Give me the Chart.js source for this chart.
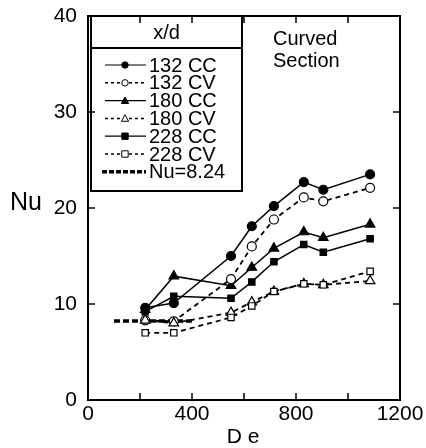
<!DOCTYPE html>
<html lang="en">
<head>
  <meta charset="UTF-8">
  <title>Nu vs De - Curved Section</title>
  <script src="https://cdn.jsdelivr.net/npm/chart.js"></script>
  <style>
    html, body { margin: 0; padding: 0; background: #fff; }
    #wrap { width: 426px; height: 448px; }
  </style>
</head>
<body>
  <div id="wrap"><canvas id="nuChart" width="426" height="448"></canvas></div>
  <script>
    // values
    const deValues = [220, 330, 550, 630, 715, 830, 905, 1085];
    const nu132CC = [9.6, 10.1, 15.0, 18.1, 20.2, 22.7, 21.9, 23.5];
    const nu132CV = [8.3, 8.2, 12.6, 16.0, 18.8, 21.1, 20.7, 22.1];
    const nu180CC = [9.4, 12.9, 11.9, 13.8, 15.8, 17.5, 16.9, 18.3];
    const nu180CV = [8.3, 8.0, 9.1, 10.2, 11.3, 12.1, 12.0, 12.4];
    const nu228CC = [9.2, 10.8, 10.6, 12.3, 14.4, 16.2, 15.4, 16.8];
    const nu228CV = [7.0, 7.0, 8.6, 9.8, 11.3, 12.1, 12.0, 13.4];
    const refDe = [100, 400];
    const refNu = [8.24, 8.24];

    const xTicks = [0, 400, 800, 1200];
    const yTicks = [0, 10, 20, 30, 40];

    const FONT = '"Liberation Sans", Arial, sans-serif';

    const pts = (xs, ys) => xs.map((x, i) => ({ x: x, y: ys[i] }));

    function series(label, ys, style, filled, dashed) {
      return {
        label: label,
        data: pts(deValues, ys),
        showLine: true,
        borderColor: '#000',
        borderWidth: dashed ? 1.8 : 1.5,
        borderDash: dashed ? [5, 4] : [],
        pointStyle: style,
        pointRadius: style === 'triangle' ? 5.5 : 4.5,
        pointBackgroundColor: filled ? '#000' : '#fff',
        pointBorderColor: '#000',
        pointBorderWidth: 1.2,
        tension: 0
      };
    }

    const datasets = [
      series('228 CV', nu228CV, 'rect', false, true),
      series('180 CV', nu180CV, 'triangle', false, true),
      series('132 CV', nu132CV, 'circle', false, true),
      series('228 CC', nu228CC, 'rect', true, false),
      series('180 CC', nu180CC, 'triangle', true, false),
      series('132 CC', nu132CC, 'circle', true, false),
      {
        label: 'Nu=8.24',
        data: pts(refDe, refNu),
        showLine: true,
        borderColor: '#000',
        borderWidth: 3.5,
        borderDash: [6, 3],
        pointRadius: 0
      }
    ];

    // frame, inward ticks, legend box, axis titles
    const decorPlugin = {
      id: 'decor',
      afterDraw(chart) {
        const ctx = chart.ctx;
        const a = chart.chartArea;
        const xs = chart.scales.x, ys = chart.scales.y;
        ctx.save();

        // legend box
        const lx = 91, ly = 16, lw = 151, lh = 175;
        ctx.fillStyle = '#fff';
        ctx.fillRect(lx, ly, lw, lh);
        ctx.strokeStyle = '#000';
        ctx.lineWidth = 2;
        ctx.strokeRect(lx, ly, lw, lh);
        ctx.beginPath();
        ctx.moveTo(lx, 48); ctx.lineTo(lx + lw, 48);
        ctx.stroke();

        ctx.fillStyle = '#000';
        ctx.font = '20px ' + FONT;
        ctx.textBaseline = 'middle';
        ctx.textAlign = 'center';
        ctx.fillText('x/d', lx + lw / 2, 33);

        ctx.textAlign = 'left';
        const order = ['132 CC', '132 CV', '180 CC', '180 CV', '228 CC', '228 CV', 'Nu=8.24'];
        order.forEach((name, i) => {
          const ds = datasets.find(d => d.label === name);
          const y = 65 + i * 17.8;
          ctx.save();
          ctx.strokeStyle = '#000';
          ctx.lineWidth = name === 'Nu=8.24' ? 3.5 : ds.borderWidth - 0.3;
          ctx.setLineDash(name === 'Nu=8.24' ? [5, 2] : (ds.borderDash.length ? [3, 3] : []));
          ctx.beginPath();
          ctx.moveTo(name === 'Nu=8.24' ? 102 : 105, y);
          ctx.lineTo(146, y);
          ctx.stroke();
          ctx.restore();
          if (ds.pointRadius) {
            const r = ds.pointStyle === 'triangle' ? 3.6 : 3.2;
            ctx.save();
            ctx.fillStyle = ds.pointBackgroundColor;
            ctx.strokeStyle = '#000';
            ctx.lineWidth = 1;
            ctx.beginPath();
            if (ds.pointStyle === 'circle') {
              ctx.arc(125, y, r, 0, Math.PI * 2);
            } else if (ds.pointStyle === 'rect') {
              ctx.rect(125 - r, y - r, 2 * r, 2 * r);
            } else {
              ctx.moveTo(125, y - r);
              ctx.lineTo(125 + r, y + r * 0.8);
              ctx.lineTo(125 - r, y + r * 0.8);
              ctx.closePath();
            }
            ctx.fill();
            ctx.stroke();
            ctx.restore();
          }
          ctx.fillStyle = '#000';
          ctx.fillText(name, 149, y + 1);
        });

        // frame
        ctx.strokeStyle = '#000';
        ctx.lineWidth = 2;
        ctx.strokeRect(a.left, a.top, a.right - a.left, a.bottom - a.top);

        // inward ticks
        ctx.lineWidth = 1.5;
        [200, 400, 600, 800, 1000].forEach(v => {
          const px = xs.getPixelForValue(v);
          ctx.beginPath();
          ctx.moveTo(px, a.bottom); ctx.lineTo(px, a.bottom - 7);
          ctx.moveTo(px, a.top); ctx.lineTo(px, a.top + 7);
          ctx.stroke();
        });
        [10, 20, 30].forEach(v => {
          const py = ys.getPixelForValue(v);
          ctx.beginPath();
          ctx.moveTo(a.left, py); ctx.lineTo(a.left + 7, py);
          ctx.moveTo(a.right, py); ctx.lineTo(a.right - 7, py);
          ctx.stroke();
        });

        // annotation and axis titles
        ctx.fillStyle = '#000';
        ctx.textAlign = 'left';
        ctx.font = '20px ' + FONT;
        ctx.fillText('Curved', 273, 39);
        ctx.fillText('Section', 273, 61);

        ctx.font = '25px ' + FONT;
        ctx.fillText('Nu', 10, 203);

        ctx.font = '21px ' + FONT;
        ctx.textAlign = 'center';
        ctx.fillText('D e', 243, 437);
        ctx.restore();
      }
    };

    new Chart(document.getElementById('nuChart').getContext('2d'), {
      type: 'scatter',
      data: { datasets: datasets },
      options: {
        responsive: false,
        animation: false,
        layout: { padding: { top: 16, right: 26, left: 0, bottom: 0 } },
        plugins: { legend: { display: false }, tooltip: { enabled: false } },
        scales: {
          x: {
            type: 'linear',
            min: 0, max: 1200,
            afterBuildTicks: s => { s.ticks = xTicks.map(v => ({ value: v })); },
            afterFit: s => { s.height = 48; s.paddingLeft = 0; s.paddingRight = 0; },
            grid: { display: false, drawTicks: false },
            border: { display: false },
            ticks: { color: '#000', padding: 2, maxRotation: 0, callback: v => String(v), font: { family: FONT, size: 21 } }
          },
          y: {
            type: 'linear',
            min: 0, max: 40,
            afterBuildTicks: s => { s.ticks = yTicks.map(v => ({ value: v })); },
            afterFit: s => { s.width = 88; s.paddingTop = 0; s.paddingBottom = 0; },
            grid: { display: false, drawTicks: false },
            border: { display: false },
            ticks: { color: '#000', padding: 11, callback: v => String(v), font: { family: FONT, size: 21 } }
          }
        }
      },
      plugins: [decorPlugin]
    });
  </script>
</body>
</html>
